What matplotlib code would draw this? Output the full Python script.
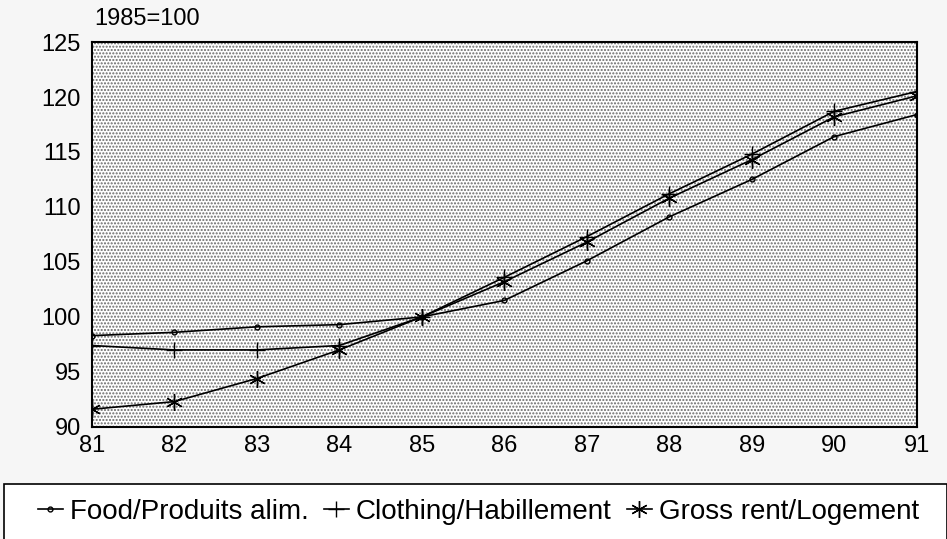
import matplotlib
matplotlib.use('Agg')
import matplotlib.pyplot as plt
from matplotlib.patches import Rectangle

years = [81, 82, 83, 84, 85, 86, 87, 88, 89, 90, 91]
food = [98.3, 98.6, 99.1, 99.3, 100.0, 101.5, 105.1, 109.1, 112.5, 116.4, 118.4]
clothing = [97.4, 97.0, 97.0, 97.4, 100.0, 103.6, 107.3, 111.2, 114.8, 118.7, 120.5]
rent = [91.6, 92.3, 94.4, 97.0, 100.0, 103.2, 106.8, 110.8, 114.3, 118.2, 120.1]
labels = ['Food/Produits alim.', 'Clothing/Habillement', 'Gross rent/Logement']
yticks = [90, 95, 100, 105, 110, 115, 120, 125]

plt.rcParams['font.family'] = ['Liberation Sans', 'DejaVu Sans']

fig = plt.figure(figsize=(9.47, 5.39), dpi=100, facecolor='#f6f6f6')
ax = fig.add_axes([0.097, 0.208, 0.871, 0.714])

# dotted background of the plot area
ax.set_facecolor('white')
ax.add_patch(Rectangle((0, 0), 1, 1, transform=ax.transAxes, facecolor='none',
                       edgecolor='#6a6a6a', hatch='.....', linewidth=0, zorder=0))

lw = 1.2
ax.plot(years, food, color='k', lw=lw, marker='o', ms=3.5, mfc='none', mew=1.0,
        label=labels[0])
ax.plot(years, clothing, color='k', lw=lw, marker='+', ms=12, mew=1.0,
        label=labels[1])
ax.plot(years, rent, color='k', lw=lw, marker=(6, 2, 0), ms=12, mew=1.0,
        label=labels[2])

ax.set_xlim(81, 91)
ax.set_ylim(90, 125)
ax.set_xticks(years)
ax.set_yticks(yticks)
ax.tick_params(length=0, labelsize=17)
ax.tick_params(axis='y', pad=8)
ax.tick_params(axis='x', pad=6)
for s in ax.spines.values():
    s.set_linewidth(1.5)

fig.text(0.100, 0.965, '1985=100', fontsize=17, va='center', ha='left')

# legend box spanning the bottom
fig.add_artist(Rectangle((0.004, -0.01), 0.996, 0.112, transform=fig.transFigure,
                         facecolor='white', edgecolor='k', linewidth=1.2))
leg = fig.legend(loc='center left', bbox_to_anchor=(0.04, 0.05),
                 ncol=3, frameon=False,
                 handlelength=0.9, handletextpad=0.25, columnspacing=0.55,
                 borderaxespad=0, borderpad=0,
                 prop={'family': ['Liberation Sans Narrow', 'Liberation Sans'], 'size': 20})

fig.savefig('out.png', dpi=100, facecolor=fig.get_facecolor())
